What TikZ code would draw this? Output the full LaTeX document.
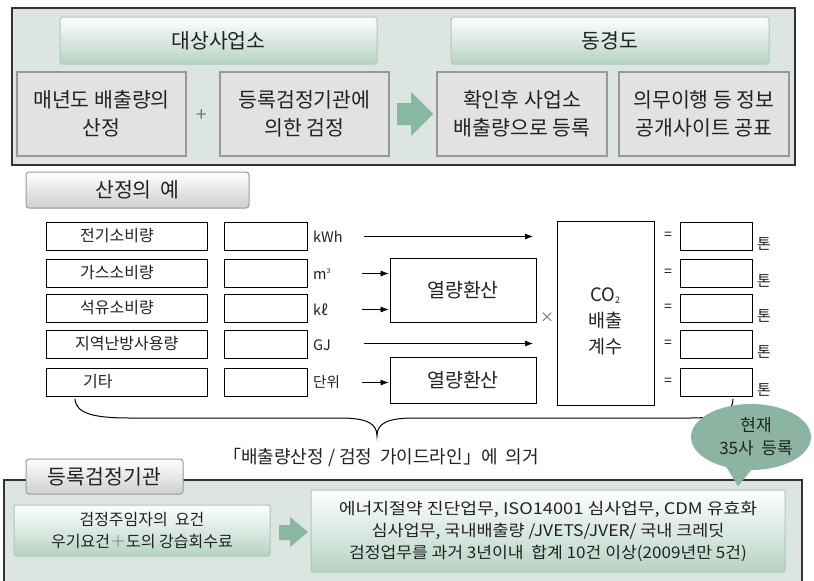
\documentclass[tikz,border=0pt]{standalone}
\usepackage{fontspec}
\setmainfont{Noto Sans CJK KR}
\usetikzlibrary{arrows.meta,shapes.geometric}

\definecolor{panel}{HTML}{DCE5DF}
\definecolor{panelline}{HTML}{333333}
\definecolor{hdrbot}{HTML}{B5D3C4}
\definecolor{hdrline}{HTML}{A9C9B9}
\definecolor{grayfill}{HTML}{E2E2E2}
\definecolor{grayline}{HTML}{989898}
\definecolor{arrowgreen}{HTML}{86B8A4}
\definecolor{bubblegreen}{HTML}{8BB5A2}
\definecolor{txt}{HTML}{222222}
\definecolor{tabbot}{HTML}{CFCFCF}
\definecolor{tabline}{HTML}{9A9A9A}

\tikzset{
  panelbox/.style={draw=panelline, line width=1.2pt, fill=panel},
  hdrbox/.style={draw=hdrline, line width=1pt, rounded corners=3pt, top color=white, bottom color=hdrbot, inner sep=0pt, text=txt, font=\fontsize{20.5}{28}\selectfont},
  graybox/.style={draw=grayline, line width=2.2pt, fill=grayfill, inner sep=0pt, align=center, text=txt, font=\fontsize{20.5}{28}\selectfont},
  tabbox/.style={draw=tabline, line width=1pt, rounded corners=3pt, top color=white, bottom color=tabbot, inner sep=0pt, text=txt, font=\fontsize{20.5}{28}\selectfont},
  plainbox/.style={draw=black, line width=0.8pt, fill=white, inner sep=0pt},
  rowlabel/.style={anchor=west, inner sep=0pt, text=txt, font=\fontsize{16}{18}\selectfont},
  unitlabel/.style={anchor=west, inner sep=0pt, text=txt, font=\fontsize{14.5}{16}\selectfont},
  smalllabel/.style={inner sep=0pt, text=txt, font=\fontsize{15}{16}\selectfont},
  flowarrow/.style={-{Latex[length=8pt,width=6pt]}, line width=0.7pt},
  greenbox/.style={draw=hdrline, line width=1pt, rounded corners=2pt, top color=white, bottom color=hdrbot, inner sep=0pt, align=center, text=txt, font=\fontsize{16}{22}\selectfont},
}

\begin{document}
\begin{tikzpicture}[x=1pt,y=-1pt]
\useasboundingbox (0,0) rectangle (814,581);
\fill[white] (0,0) rectangle (814,581);

% ---------- top panel ----------
\draw[panelbox] (12,8) rectangle (795,165);
\node[hdrbox, minimum width=317pt, minimum height=47pt] (h1) at (218.5,40.5) {대상사업소};
\node[hdrbox, minimum width=318pt, minimum height=47pt] (h2) at (610,40.5) {동경도};

\node[graybox, minimum width=169pt, minimum height=84pt] (b1) at (101.5,114) {매년도 배출량의\\산정};
\node[graybox, minimum width=169pt, minimum height=84pt] (b2) at (304.5,114) {등록검정기관에\\의한 검정};
\node[graybox, minimum width=170pt, minimum height=84pt] (b3) at (522,114) {확인후 사업소\\배출량으로 등록};
\node[graybox, minimum width=170pt, minimum height=84pt] (b4) at (704,114) {의무이행 등 정보\\공개사이트 공표};

\node[inner sep=0pt, text=black!55, font=\fontsize{19}{20}\selectfont] (plus1) at (202,116) {+};
\fill[arrowgreen] (397,103) -- (411,103) -- (411,92) -- (433,114) -- (411,136) -- (411,125) -- (397,125) -- cycle;

% ---------- calculation example ----------
\node[tabbox, minimum width=223pt, minimum height=36pt] (t1) at (137.5,190) {산정의~~예};

% rows
\foreach \i/\y in {1/236.5, 2/273.5, 3/308.5, 4/344.5, 5/382.5}{
  \node[plainbox, minimum width=161pt, minimum height=28pt] (l\i) at (126.5,\y) {};
  \node[plainbox, minimum width=83pt, minimum height=28pt] (m\i) at (265.5,\y) {};
  \node[plainbox, minimum width=72pt, minimum height=28pt] (r\i) at (716,\y) {};
  \node[inner sep=0pt, text=txt, font=\fontsize{14}{16}\selectfont] (eq\i) at (668,\y-1) {=};
  \node[smalllabel, anchor=west] (ton\i) at (757,\y+7) {톤};
}
\node[rowlabel] (lt1) at (80,236) {전기소비량};
\node[rowlabel] (lt2) at (80,273) {가스소비량};
\node[rowlabel] (lt3) at (80,308) {석유소비량};
\node[rowlabel] (lt4) at (75,344) {지역난방사용량};
\node[rowlabel] (lt5) at (83,382) {기타};

\node[unitlabel] (u1) at (313,237) {kWh};
\node[unitlabel] (u2) at (313,274) {m\textsuperscript{\fontsize{7}{8}\selectfont 3}};
\node[unitlabel] (u3) at (313,310) {kℓ};
\node[unitlabel] (u4) at (313,345) {GJ};
\node[unitlabel] (u5) at (313,382) {단위};

\node[plainbox, minimum width=146pt, minimum height=64pt, text=txt, font=\fontsize{19.5}{22}\selectfont] (e1) at (463,290) {열량환산};
\node[plainbox, minimum width=146pt, minimum height=46pt, text=txt, font=\fontsize{19.5}{22}\selectfont] (e2) at (463,380) {열량환산};
\node[plainbox, minimum width=97pt, minimum height=184pt] (co) at (605.5,313) {};
\node[inner sep=0pt, align=center, text=txt, font=\fontsize{18.5}{26}\selectfont] (cot) at (605.5,321) {CO\textsubscript{\fontsize{9}{10}\selectfont 2}\\배출\\계수};
\node[inner sep=0pt, text=black!60, font=\fontsize{14}{16}\selectfont] (times) at (547,318) {×};

\coordinate (k1s) at (364,236.5);
\coordinate (k1e) at (533,236.5);
\coordinate (k4s) at (364,343.5);
\coordinate (k4e) at (533,343.5);
\draw[flowarrow] (k1s) -- (k1e);
\draw[flowarrow] (k4s) -- (k4e);
\coordinate (a2) at (362,273.5);
\coordinate (a3) at (362,309.5);
\coordinate (a5) at (362,382.5);
\draw[flowarrow, shorten >=1pt] (a2) -- (e1.west |- a2);
\draw[flowarrow, shorten >=1pt] (a3) -- (e1.west |- a3);
\draw[flowarrow, shorten >=1pt] (a5) -- (e2.west |- a5);

% brace
\draw[line width=1pt] (75,399) .. controls (76,414) and (95,418) .. (130,418)
  -- (340,418) .. controls (368,418) and (377,424) .. (377,436)
  .. controls (377,424) and (386,418) .. (414,418)
  -- (690,418) .. controls (722,418) and (733,412) .. (733,399);

\node[inner sep=0pt, text=txt, font=\fontsize{18}{20}\selectfont] (guide) at (381,457) {「배출량산정 / 검정~~가이드라인」에~~의거};

% ---------- bottom panel ----------
\draw[panelbox] (4,480) rectangle (802,600);
\node[tabbox, minimum width=157pt, minimum height=35pt] (t2) at (104.5,476.5) {등록검정기관};

\node[greenbox, minimum width=256pt, minimum height=51pt] (g1) at (142,530.5) {검정주임자의~~요건\\우기요건{\color{black!45}＋}도의 강습회수료};
\fill[arrowgreen] (279,525) -- (290,525) -- (290,517) -- (308,532) -- (290,547) -- (290,540) -- (279,540) -- cycle;
\node[greenbox, minimum width=474pt, minimum height=82pt] (g2) at (548,531) {\scalebox{1.14}[1]{에너지절약 진단업무, ISO14001 심사업무, CDM 유효화}\\\scalebox{1.09}[1]{심사업무, 국내배출량 /JVETS/JVER/ 국내 크레딧}\\\scalebox{1.07}[1]{검정업무를 과거 3년이내~~합계 10건 이상(2009년만 5건)}};

% speech bubble
\fill[bubblegreen] (722,460) -- (738,486) -- (758,462) -- cycle;
\node[ellipse, fill=bubblegreen, minimum width=120pt, minimum height=66pt, inner sep=0pt] (bub) at (751,437) {};
\node[inner sep=0pt, align=center, text=txt, font=\fontsize{17}{23}\selectfont] (bubt) at (756,437) {현재\\35사~~등록};
\end{tikzpicture}
\end{document}
